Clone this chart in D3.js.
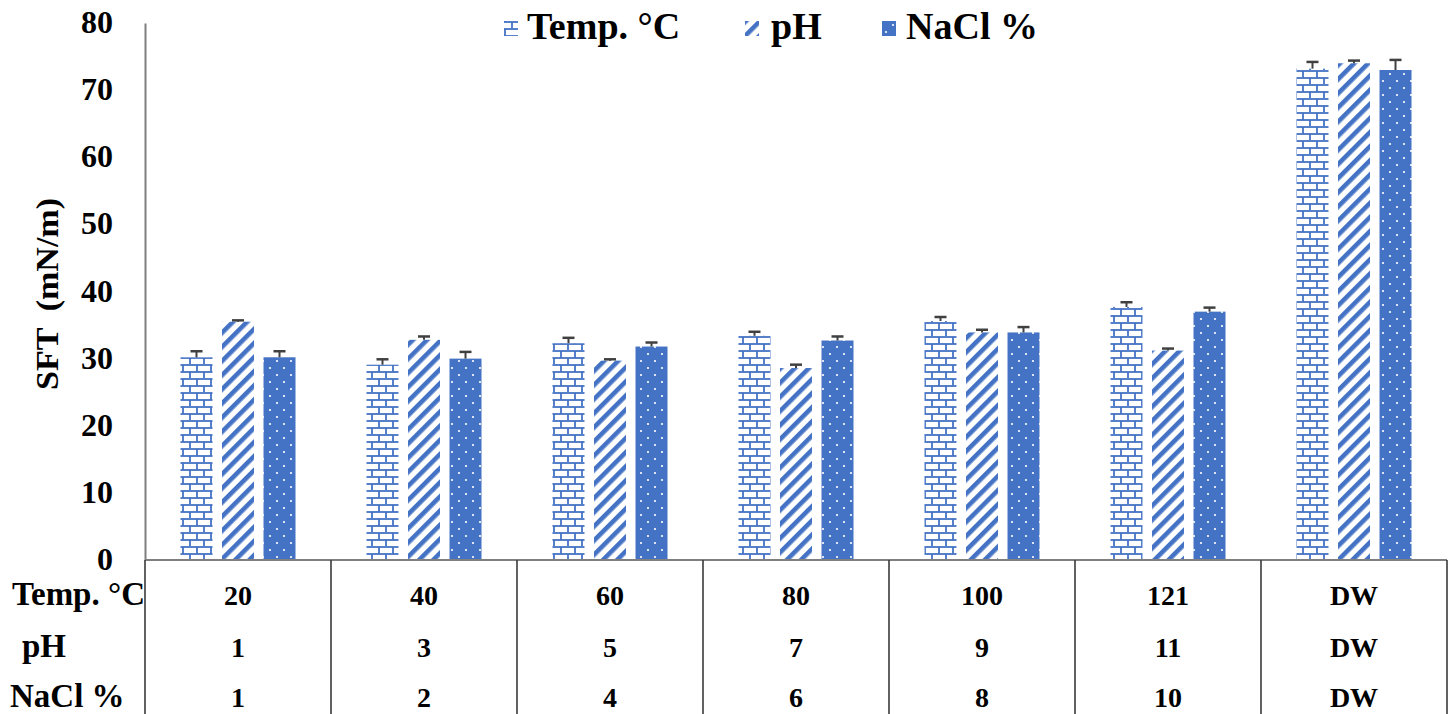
<!DOCTYPE html>
<html>
<head>
<meta charset="utf-8">
<script src="https://cdn.jsdelivr.net/npm/d3@7"></script>
<style>
  html, body { margin: 0; padding: 0; background: #fff; }
  svg { display: block; font-family: "Liberation Serif", "Times New Roman", serif; font-weight: bold; }
</style>
</head>
<body>
<svg id="chart" width="1450" height="714"></svg>
<script>
// Condition labels shown in the table under the bars
const tempLabels = ["20", "40", "60", "80", "100", "121", "DW"];
const phLabels   = ["1", "3", "5", "7", "9", "11", "DW"];
const naclLabels = ["1", "2", "4", "6", "8", "10", "DW"];

// Surface tension (mN/m) and upper error for each condition
const tempSFT = [30.2, 29.1, 32.3, 33.4, 35.6, 37.7, 73.2];
const tempErr = [0.9, 0.8, 0.8, 0.6, 0.6, 0.7, 1.0];
const phSFT   = [35.5, 32.8, 29.7, 28.6, 33.9, 31.2, 74.0];
const phErr   = [0.2, 0.5, 0.2, 0.5, 0.4, 0.3, 0.4];
const naclSFT = [30.2, 30.0, 31.8, 32.7, 33.9, 37.0, 73.0];
const naclErr = [0.9, 1.0, 0.6, 0.6, 0.8, 0.6, 1.5];

const seriesNames = ["Temp. °C", "pH", "NaCl %"];
const yTicks = [0, 10, 20, 30, 40, 50, 60, 70, 80];

const blue = "#4472C4";
const svg = d3.select("#chart");

// ---- fill patterns ----
const defs = svg.append("defs");

const brick = defs.append("pattern").attr("id", "brick")
  .attr("patternUnits", "userSpaceOnUse").attr("width", 14).attr("height", 14);
brick.append("rect").attr("width", 14).attr("height", 14).attr("fill", "#fff");
const bp = brick.append("g").attr("stroke", blue).attr("stroke-width", 1.8).attr("fill", "none");
bp.append("line").attr("x1", 0).attr("x2", 14).attr("y1", 1).attr("y2", 1);
bp.append("line").attr("x1", 0).attr("x2", 14).attr("y1", 8).attr("y2", 8);
bp.append("line").attr("x1", 1).attr("x2", 1).attr("y1", 1).attr("y2", 8);
bp.append("line").attr("x1", 8).attr("x2", 8).attr("y1", 8).attr("y2", 14);

const stripe = defs.append("pattern").attr("id", "stripe")
  .attr("patternUnits", "userSpaceOnUse").attr("width", 10).attr("height", 10)
  .attr("patternTransform", "rotate(45)");
stripe.append("rect").attr("width", 10).attr("height", 10).attr("fill", "#fff");
stripe.append("rect").attr("x", 0).attr("width", 4.6).attr("height", 10).attr("fill", blue);

const dots = defs.append("pattern").attr("id", "dots")
  .attr("patternUnits", "userSpaceOnUse").attr("width", 14).attr("height", 14);
dots.append("rect").attr("width", 14).attr("height", 14).attr("fill", blue);
dots.append("circle").attr("cx", 4).attr("cy", 4).attr("r", 1.1).attr("fill", "#fff");
dots.append("circle").attr("cx", 11).attr("cy", 11).attr("r", 1.1).attr("fill", "#fff");

const fills = ["url(#brick)", "url(#stripe)", "url(#dots)"];

// ---- scales ----
const groups = d3.range(tempLabels.length);
const x0 = d3.scaleBand().domain(groups).range([145, 1447]).padding(0);
const x1 = d3.scaleBand().domain([0, 1, 2]).range([0, x0.bandwidth()])
  .paddingInner(0.229).paddingOuter(0.855);
const y = d3.scaleLinear().domain([0, 80]).range([560, 23]);

// ---- y axis ----
const yAxis = svg.append("g").attr("transform", "translate(145,0)")
  .call(d3.axisLeft(y).tickValues(yTicks).tickSize(0).tickPadding(32));
yAxis.select(".domain").attr("stroke", "#7f7f7f").attr("stroke-width", 2);
yAxis.selectAll("text").attr("font-family", "Liberation Serif, serif")
  .attr("font-weight", "bold").attr("font-size", 32).attr("dy", "0.3em").attr("fill", "#000");

svg.append("text")
  .attr("transform", "translate(58,294) rotate(-90)")
  .attr("text-anchor", "middle")
  .attr("font-size", 32)
  .attr("textLength", 192).attr("lengthAdjust", "spacingAndGlyphs")
  .attr("xml:space", "preserve")
  .text("SFT  (mN/m)");

// ---- bars ----
const values = [tempSFT, phSFT, naclSFT];
const errors = [tempErr, phErr, naclErr];
const barData = [];
groups.forEach(g => values.forEach((vals, s) => barData.push({ g, s, v: vals[g], e: errors[s][g] })));

svg.append("g").selectAll("rect").data(barData).join("rect")
  .attr("x", d => x0(d.g) + x1(d.s))
  .attr("width", x1.bandwidth())
  .attr("y", d => y(d.v))
  .attr("height", d => y(0) - y(d.v))
  .attr("fill", d => fills[d.s]);

// ---- error bars (upper) ----
const eb = svg.append("g").attr("stroke", "#404040").attr("stroke-width", 2);
eb.selectAll("line.stem").data(barData).join("line").attr("class", "stem")
  .attr("x1", d => x0(d.g) + x1(d.s) + x1.bandwidth() / 2)
  .attr("x2", d => x0(d.g) + x1(d.s) + x1.bandwidth() / 2)
  .attr("y1", d => y(d.v)).attr("y2", d => y(d.v + d.e));
eb.selectAll("line.cap").data(barData).join("line").attr("class", "cap")
  .attr("x1", d => x0(d.g) + x1(d.s) + x1.bandwidth() / 2 - 6)
  .attr("x2", d => x0(d.g) + x1(d.s) + x1.bandwidth() / 2 + 6)
  .attr("y1", d => y(d.v + d.e)).attr("y2", d => y(d.v + d.e))
  .attr("stroke-width", 2.5);

// ---- data table under the axis ----
const rowY = [605, 657, 707];
const rowLabels = [
  { text: "Temp. °C", x: 12 },
  { text: "pH", x: 22 },
  { text: "NaCl %", x: 10 }
];
defs.append("clipPath").attr("id", "labelClip")
  .append("rect").attr("x", 0).attr("y", 560).attr("width", 145).attr("height", 160);

svg.append("g").attr("clip-path", "url(#labelClip)")
  .selectAll("text").data(rowLabels).join("text")
  .attr("x", d => d.x).attr("y", (d, i) => rowY[i])
  .attr("font-size", 33)
  .text(d => d.text);

const tableRows = [tempLabels, phLabels, naclLabels];
tableRows.forEach((labels, r) => {
  svg.append("g").selectAll("text").data(labels).join("text")
    .attr("x", (d, i) => x0(i) + x0.bandwidth() / 2)
    .attr("y", rowY[r])
    .attr("text-anchor", "middle")
    .attr("font-size", 28)
    .text(d => d);
});

// table grid
const grid = svg.append("g").attr("stroke", "#3a3a3a").attr("stroke-width", 1.6);
grid.append("line").attr("x1", 145).attr("x2", 1447).attr("y1", 560).attr("y2", 560)
  .attr("stroke", "#7f7f7f").attr("stroke-width", 2.2);
grid.selectAll("line.v").data(d3.range(tempLabels.length + 1)).join("line").attr("class", "v")
  .attr("x1", i => 145 + i * x0.step()).attr("x2", i => 145 + i * x0.step())
  .attr("y1", 560).attr("y2", 714);

// ---- legend ----
const legendItems = [
  { name: seriesNames[0], mx: 504, tx: 527 },
  { name: seriesNames[1], mx: 745, tx: 771 },
  { name: seriesNames[2], mx: 882, tx: 906 }
];
const lg = svg.append("g");
legendItems.forEach((d, i) => {
  lg.append("rect").attr("x", d.mx).attr("y", 21).attr("width", 14).attr("height", 15)
    .attr("fill", fills[i]);
  lg.append("text").attr("x", d.tx).attr("y", 39).attr("font-size", 38).text(d.name);
});
</script>
</body>
</html>
